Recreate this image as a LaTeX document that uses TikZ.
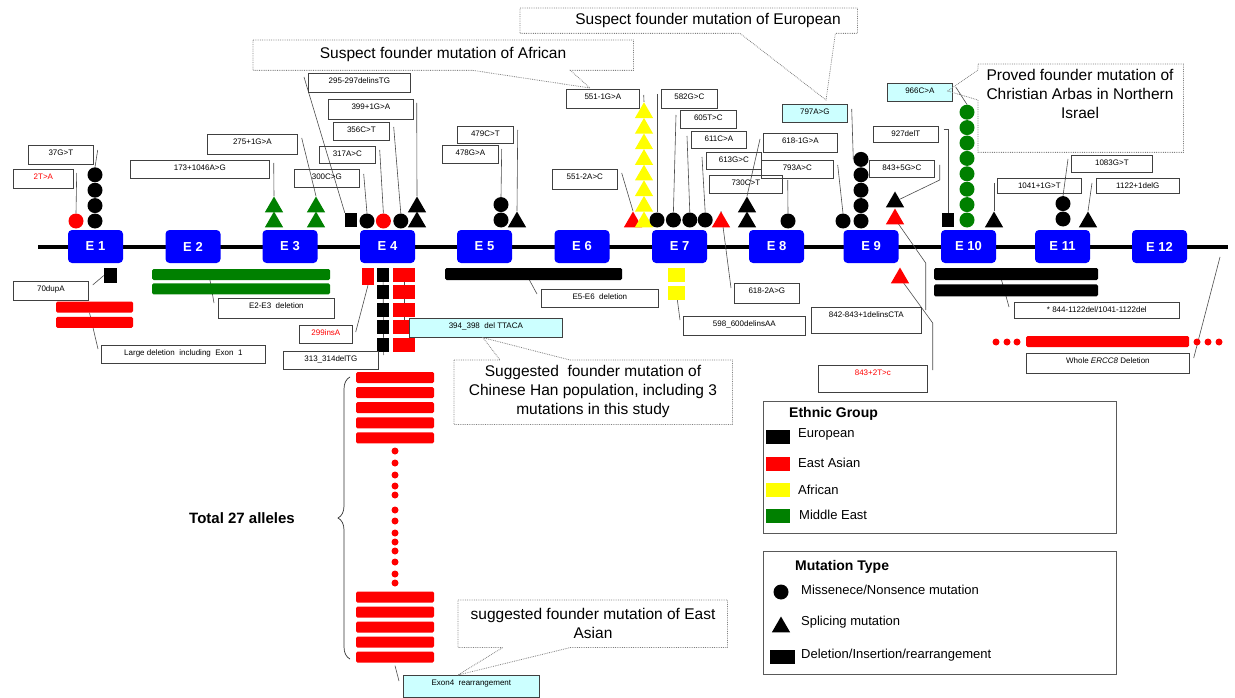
\documentclass[tikz,border=0pt]{standalone}
\usepackage{fontspec}
\setmainfont{Liberation Sans}
\usepackage{tikz}
\usetikzlibrary{calc,positioning,shapes.geometric,decorations.pathreplacing,backgrounds}

\definecolor{exblue}{RGB}{0,0,255}
\definecolor{megreen}{RGB}{0,128,0}
\definecolor{afyellow}{RGB}{255,255,0}
\definecolor{lcyan}{RGB}{204,255,255}

\newcommand{\lblfont}{\fontsize{8}{9}\selectfont}
\newcommand{\calfont}{\fontsize{15.5}{19}\selectfont}
\newcommand{\legfont}{\fontsize{13}{15}\selectfont}

\tikzset{
  exon/.style={fill=exblue, rounded corners=4pt, minimum width=55pt, minimum height=33pt, inner sep=0pt, text=white, font=\bfseries\fontsize{13}{13}\selectfont},
  lbl/.style={draw=black!75, line width=0.7pt, anchor=north west, inner xsep=0pt, inner ysep=3.5pt, text height=6.5pt, text depth=5.5pt, font=\lblfont},
  cir/.style={circle, fill=#1, minimum size=15pt, inner sep=0pt},
  tri/.style={regular polygon, regular polygon sides=3, fill=#1, minimum size=21pt, inner sep=0pt},
  sqr/.style={rectangle, fill=#1, minimum width=12pt, minimum height=14pt, inner sep=0pt},
  slab/.style={rectangle, fill=#1, rounded corners=1.5pt, minimum height=11pt, inner sep=0pt},
  swatch/.style={rectangle, fill=#1, minimum width=24pt, minimum height=14pt, inner sep=0pt},
  rdot/.style={circle, fill=red, minimum size=7pt, inner sep=0pt},
  ld/.style={draw=black!70, line width=0.6pt},
  calline/.style={draw=black!50, densely dotted, line width=0.8pt},
  calbox/.style={anchor=north west, inner sep=0pt},
  calltext/.style={font=\calfont, align=center, inner sep=0pt},
  legbox/.style={draw=black!65, line width=0.8pt, anchor=north west, inner sep=0pt},
  legtext/.style={font=\legfont, anchor=west, inner sep=0pt},
  legtitle/.style={font=\bfseries\fontsize{14}{16}\selectfont, anchor=west, inner sep=0pt},
}

\begin{document}
\begin{tikzpicture}[x=1pt, y=-1pt]
	\useasboundingbox (0,0) rectangle (1235,698);
	\coordinate (bbl) at (38,247);
	\coordinate (bbr) at (1228,247);
	\coordinate (wend) at (1220,257);
	\coordinate (brb) at (350,659);
	\coordinate (brt) at (350,377);

	\node (e1) [exon] at (95.5,246.5) {E 1};
	\node (e2) [exon] at (193,246.5) {E 2};
	\node (e3) [exon] at (290,246.5) {E 3};
	\node (e4) [exon] at (387.5,246.5) {E 4};
	\node (e5) [exon] at (484.5,246.5) {E 5};
	\node (e6) [exon] at (582,246.5) {E 6};
	\node (e7) [exon] at (679.5,246.5) {E 7};
	\node (e8) [exon] at (776.5,246.5) {E 8};
	\node (e9) [exon] at (871,246.5) {E 9};
	\node (e10) [exon] at (968.5,246.5) {E 10};
	\node (e11) [exon] at (1062.5,246.5) {E 11};
	\node (e12) [exon] at (1159.5,246.5) {E 12};

	\node (c1r) [cir=red] at (76,221) {};
	\node (c1a) [cir=black] at (95,221) {};
	\node (c1b) [cir=black, above=0pt of c1a] {};
	\node (c1c) [cir=black, above=0pt of c1b] {};
	\node (c1d) [cir=black, above=0pt of c1c] {};
	\node (t3a) [tri=megreen] at (274,222) {};
	\node (t3b) [tri=megreen] at (274,207) {};
	\node (t3c) [tri=megreen] at (316,222) {};
	\node (t3d) [tri=megreen] at (316,207) {};
	\node (sq4) [sqr=black] at (351,220) {};
	\node (c4a) [cir=black] at (367,221) {};
	\node (c4b) [cir=red, right=1pt of c4a] {};
	\node (c4c) [cir=black, right=2pt of c4b] {};
	\node (t4a) [tri=black] at (417,222) {};
	\node (t4b) [tri=black] at (417,207) {};
	\node (c5a) [cir=black] at (501,220) {};
	\node (c5b) [cir=black, above=0pt of c5a] {};
	\node (t5) [tri=black] at (517,222) {};
	\node (t6) [tri=red] at (633,222) {};
	\node (y1) [tri=afyellow] at (644,222) {};
	\node (y2) [tri=afyellow] at (644,206.4) {};
	\node (y3) [tri=afyellow] at (644,190.8) {};
	\node (y4) [tri=afyellow] at (644,175.2) {};
	\node (y5) [tri=afyellow] at (644,159.6) {};
	\node (y6) [tri=afyellow] at (644,144) {};
	\node (y7) [tri=afyellow] at (644,128.4) {};
	\node (y8) [tri=afyellow] at (644,112.8) {};
	\node (c7a) [cir=black] at (657,220) {};
	\node (c7b) [cir=black, right=1pt of c7a] {};
	\node (c7c) [cir=black, right=1pt of c7b] {};
	\node (c7d) [cir=black, right=0pt of c7c] {};
	\node (t7) [tri=red] at (721,222) {};
	\node (t8a) [tri=black] at (747,222) {};
	\node (t8b) [tri=black] at (747,207) {};
	\node (c8) [cir=black] at (788,221) {};
	\node (c9a) [cir=black] at (843,221) {};
	\node (c9b) [cir=black] at (861,221) {};
	\node (c9c) [cir=black, above=0pt of c9b] {};
	\node (c9d) [cir=black, above=0pt of c9c] {};
	\node (c9e) [cir=black, above=0pt of c9d] {};
	\node (c9f) [cir=black, above=0pt of c9e] {};
	\node (t9r) [tri=red] at (895,219) {};
	\node (t9k) [tri=black] at (895,202) {};
	\node (t9d) [tri=red] at (900,278) {};
	\node (sq10) [sqr=black] at (948,220) {};
	\node (g1) [cir=megreen] at (967,220) {};
	\node (g2) [cir=megreen, above=0pt of g1] {};
	\node (g3) [cir=megreen, above=0pt of g2] {};
	\node (g4) [cir=megreen, above=0pt of g3] {};
	\node (g5) [cir=megreen, above=0pt of g4] {};
	\node (g6) [cir=megreen, above=0pt of g5] {};
	\node (g7) [cir=megreen, above=0pt of g6] {};
	\node (g8) [cir=megreen, above=0pt of g7] {};
	\node (t10) [tri=black] at (994,222) {};
	\node (c11a) [cir=black] at (1063,219) {};
	\node (c11b) [cir=black, above=0pt of c11a] {};
	\node (t11) [tri=black] at (1088,222) {};

	\node (sq1b) [sqr=black, minimum width=13pt, minimum height=15pt] at (110.5,275.5) {};
	\node (b1a) [slab=red, minimum width=77pt] at (94.5,307) {};
	\node (b1b) [slab=red, minimum width=77pt, below=4pt of b1a] {};
	\node (b23a) [slab=megreen, minimum width=178pt] at (241,274.5) {};
	\node (b23b) [slab=megreen, minimum width=178pt, below=3pt of b23a] {};
	\node (s4r) [sqr=red, minimum height=17pt] at (368,276.5) {};
	\node (s4k1) [sqr=black] at (383,275) {};
	\node (s4k2) [sqr=black, below=3pt of s4k1] {};
	\node (s4k3) [sqr=black, below=3pt of s4k2] {};
	\node (s4k4) [sqr=black, below=3pt of s4k3] {};
	\node (s4k5) [sqr=black, below=3pt of s4k4] {};
	\node (s4r1) [sqr=red, minimum width=22pt] at (404,275) {};
	\node (s4r2) [sqr=red, minimum width=22pt, below=3pt of s4r1] {};
	\node (s4r3) [sqr=red, minimum width=22pt, below=3pt of s4r2] {};
	\node (s4r4) [sqr=red, minimum width=22pt, below=3pt of s4r3] {};
	\node (s4r5) [sqr=red, minimum width=22pt, below=3pt of s4r4] {};
	\node (b56) [slab=black, minimum width=177pt, minimum height=12pt] at (533.5,274) {};
	\node (s7y1) [sqr=afyellow, minimum width=17pt] at (676.5,275) {};
	\node (s7y2) [sqr=afyellow, minimum width=17pt, below=4pt of s7y1] {};
	\node (b1011a) [slab=black, minimum width=164pt, minimum height=12pt] at (1016,274) {};
	\node (b1011b) [slab=black, minimum width=164pt, minimum height=12pt, below=4pt of b1011a] {};
	\node (bw) [slab=red, minimum width=163pt] at (1107.5,341.5) {};
	\node (dl1) [rdot] at (996,342) {};
	\node (dl2) [rdot] at (1007,342) {};
	\node (dl3) [rdot] at (1017,342) {};
	\node (dr1) [rdot] at (1197,342) {};
	\node (dr2) [rdot] at (1208,342) {};
	\node (dr3) [rdot] at (1219,342) {};

	\node (h1) [slab=red, minimum width=78pt] at (395,377.5) {};
	\node (h2) [slab=red, minimum width=78pt, below=3.7pt of h1] {};
	\node (h3) [slab=red, minimum width=78pt, below=3.7pt of h2] {};
	\node (h4) [slab=red, minimum width=78pt, below=3.7pt of h3] {};
	\node (h5) [slab=red, minimum width=78pt, below=3.7pt of h4] {};
	\node (h6) [slab=red, minimum width=78pt] at (395,597) {};
	\node (h7) [slab=red, minimum width=78pt, below=3.6pt of h6] {};
	\node (h8) [slab=red, minimum width=78pt, below=3.6pt of h7] {};
	\node (h9) [slab=red, minimum width=78pt, below=3.6pt of h8] {};
	\node (h10) [slab=red, minimum width=78pt, below=3.6pt of h9] {};
	\node (hd1) [rdot] at (395,451) {};
	\node (hd2) [rdot] at (395,463) {};
	\node (hd3) [rdot] at (395,475) {};
	\node (hd4) [rdot] at (395,486) {};
	\node (hd5) [rdot] at (395,495) {};
	\node (hd6) [rdot] at (395,510) {};
	\node (hd7) [rdot] at (395,521) {};
	\node (hd8) [rdot] at (395,533) {};
	\node (hd9) [rdot] at (395,542) {};
	\node (hd10) [rdot] at (395,551) {};
	\node (hd11) [rdot] at (395,562) {};
	\node (hd12) [rdot] at (395,574) {};
	\node (hd13) [rdot] at (395,583) {};
	\node (tot) [font=\bfseries\fontsize{15}{18}\selectfont, anchor=west, inner sep=0pt] at (189,518) {Total 27 alleles};

	\node (l2ta) [lbl, minimum width=60pt, text=red] at (13,169) {2T>A};
	\node (l37) [lbl, minimum width=65pt] at (28,145) {37G>T};
	\node (l173) [lbl, minimum width=139pt, text depth=4.5pt] at (130,160) {173+1046A>G};
	\node (l275) [lbl, minimum width=90pt, text depth=6.5pt] at (207,134) {275+1G>A};
	\node (l70) [lbl, minimum width=75pt] at (13,281) {70dupA};
	\node (llarge) [lbl, minimum width=164pt, text depth=4.5pt] at (101,345) {Large deletion\ \ including\ \ Exon\ \ 1};
	\node (le23) [lbl, minimum width=116pt, text depth=6.5pt] at (218,298) {E2-E3\ \ deletion};
	\node (l295) [lbl, minimum width=102pt] at (308,73) {295-297delinsTG};
	\node (l399) [lbl, minimum width=85pt, text depth=6.5pt] at (328,99) {399+1G>A};
	\node (l356) [lbl, minimum width=56pt, text depth=4.5pt] at (333,122) {356C>T};
	\node (l317) [lbl, minimum width=56pt, text depth=3.5pt] at (319,146) {317A>C};
	\node (l300) [lbl, minimum width=65pt, text depth=4.5pt] at (294,169) {300C>G};
	\node (l299) [lbl, minimum width=53pt, text depth=4.5pt, text=red] at (299,325) {299insA};
	\node (l313) [lbl, minimum width=95pt, text depth=4.5pt] at (283,351) {313\_314delTG};
	\node (l394) [lbl, minimum width=153pt, fill=lcyan] at (409,318) {394\_398\ \ del TTACA};
	\node (l479) [lbl, minimum width=56pt, text depth=3.5pt] at (457,126) {479C>T};
	\node (l478) [lbl, minimum width=56pt, text depth=4.5pt] at (442,145) {478G>A};
	\node (l5512) [lbl, minimum width=65pt, text depth=6.5pt] at (552,169) {551-2A>C};
	\node (le56) [lbl, minimum width=117pt, text depth=4.5pt] at (541,289) {E5-E6\ \ deletion};
	\node (l5511) [lbl, minimum width=73pt] at (566,89) {551-1G>A};
	\node (l582) [lbl, minimum width=56pt] at (661,89) {582G>C};
	\node (l605) [lbl, minimum width=56pt, text depth=4.5pt] at (680,110) {605T>C};
	\node (l611) [lbl, minimum width=55pt, text depth=3.5pt] at (691,131) {611C>A};
	\node (l613) [lbl, minimum width=55pt, text depth=3.5pt] at (706,152) {613G>C};
	\node (l6182) [lbl, minimum width=65pt, text depth=6.5pt] at (734,283) {618-2A>G};
	\node (l598) [lbl, minimum width=122pt] at (683,316) {598\_600delinsAA};
	\node (l6181) [lbl, minimum width=74pt] at (763,133) {618-1G>A};
	\node (l730) [lbl, minimum width=73pt, text depth=4.5pt] at (709,175) {730C>T};
	\node (l793) [lbl, minimum width=72pt, text depth=4.5pt] at (761,160) {793A>C};
	\node (l797) [lbl, minimum width=65pt, text depth=4.5pt, fill=lcyan] at (782,104) {797A>G};
	\node (l927) [lbl, minimum width=65pt, text depth=2.5pt] at (873,126) {927delT};
	\node (l843) [lbl, minimum width=65pt, text depth=3.5pt] at (869,160) {843+5G>C};
	\node (l842) [lbl, minimum width=110pt, text depth=12.5pt] at (811,307) {842-843+1delinsCTA};
	\node (l8432) [lbl, minimum width=109pt, text depth=13.5pt, text=red] at (818,365) {843+2T>c};
	\node (l966) [lbl, minimum width=65pt, text depth=4.5pt, fill=lcyan] at (887,83) {966C>A};
	\node (l1041) [lbl, minimum width=84pt, text depth=1.5pt] at (997,178) {1041+1G>T};
	\node (l1083) [lbl, minimum width=81pt, text depth=3.5pt] at (1071,155) {1083G>T};
	\node (l1122) [lbl, minimum width=83pt, text depth=1.5pt] at (1096,178) {1122+1delG};
	\node (l844) [lbl, minimum width=165pt, text depth=2.5pt] at (1014,302) {* 844-1122del/1041-1122del};
	\node (lwhole) [lbl, minimum width=163pt, text depth=6.5pt] at (1026,353) {Whole \textit{ERCC8} Deletion};
	\node (lexon4) [lbl, minimum width=136pt, text depth=8.5pt, fill=lcyan] at (403,675) {Exon4\ \ rearrangement};

	\node (eurbox) [calbox, minimum width=337pt, minimum height=25pt] at (520,8) {};
	\node (eur) [calltext] at (708,20.5) {Suspect founder mutation of European};
	\draw[calline] (eurbox.north west) -- (eurbox.north east) -- (eurbox.south east) -- ([xshift=-22pt]eurbox.south east) -- ($(l797.north west)+(44,-4)$) -- ([xshift=220pt]eurbox.south west) -- (eurbox.south west) -- cycle;
	\node (afrbox) [calbox, minimum width=380pt, minimum height=30pt] at (253,40) {};
	\node (afr) [calltext] at (443,54) {Suspect founder mutation of African};
	\draw[calline] (afrbox.north west) -- (afrbox.north east) -- (afrbox.south east) -- ([xshift=-63pt]afrbox.south east) -- ($(l5511.north west)+(24,-1)$) -- ([xshift=220pt]afrbox.south west) -- (afrbox.south west) -- cycle;
	\node (prvbox) [calbox, minimum width=205pt, minimum height=88pt] at (978,64) {};
	\node (prv) [calltext] at (1080,94) {Proved founder mutation of\\Christian Arbas in Northern\\Israel};
	\draw[calline] (prvbox.north west) -- (prvbox.north east) -- (prvbox.south east) -- (prvbox.south west) -- ([yshift=-36pt]prvbox.north west) -- ($(l966.north east)+(-5,8)$) -- ([yshift=-6pt]prvbox.north west) -- cycle;
	\node (hanbox) [calbox, minimum width=278pt, minimum height=64pt] at (454,360) {};
	\node (han) [calltext] at (593,391) {Suggested\ \ founder mutation of\\Chinese Han population, including 3\\mutations in this study};
	\draw[calline] (hanbox.north west) -- ([xshift=46pt]hanbox.north west) -- ($(l394.south west)+(74,0)$) -- ([xshift=116pt]hanbox.north west) -- (hanbox.north east) -- (hanbox.south east) -- (hanbox.south west) -- cycle;
	\node (easbox) [calbox, minimum width=269pt, minimum height=47pt] at (458,600) {};
	\node (eas) [calltext] at (593,623) {suggested founder mutation of East\\Asian};
	\draw[calline] (easbox.north west) -- (easbox.north east) -- (easbox.south east) -- ([xshift=113pt]easbox.south west) -- ($(lexon4.north west)+(55,0)$) -- ([xshift=45pt]easbox.south west) -- (easbox.south west) -- cycle;

	\node (eth) [legbox, minimum width=353pt, minimum height=132pt] at (763,401) {};
	\node (ethT) [legtitle] at (789,414) {Ethnic Group};
	\node (kEu) [swatch=black] at (778,437) {};
	\node (tEu) [legtext] at (798,434) {European};
	\node (kEa) [swatch=red] at (778,463.5) {};
	\node (tEa) [legtext] at (798,463) {East Asian};
	\node (kAf) [swatch=afyellow] at (778,490) {};
	\node (tAf) [legtext] at (798,490) {African};
	\node (kMe) [swatch=megreen] at (778,515.5) {};
	\node (tMe) [legtext] at (799,515) {Middle East};
	\node (mty) [legbox, minimum width=353pt, minimum height=123pt] at (763,551) {};
	\node (mtyT) [legtitle] at (795,567) {Mutation Type};
	\node (mCir) [cir=black] at (781,592) {};
	\node (tCir) [legtext] at (801,590) {Missenece/Nonsence mutation};
	\node (mTri) [tri=black] at (781,627) {};
	\node (tTri) [legtext] at (801,622) {Splicing mutation};
	\node (mRec) [swatch=black, minimum width=25pt] at (782.5,657) {};
	\node (tRec) [legtext] at (801,655) {Deletion/Insertion/rearrangement};

	\begin{pgfonlayer}{background}
	\draw[line width=4pt] (bbl) -- (bbr);
	\draw[black!80, line width=0.7pt, decorate, decoration={brace, amplitude=12pt}] (brb) -- (brt);
	\draw[ld] ($(l2ta.north east)+(3,4)$) -- (c1r.north);
	\draw[ld] ($(l37.north east)+(4,5)$) -- (c1d.north);
	\draw[ld] ($(l173.north east)+(4,3)$) -- (t3b.corner 1);
	\draw[ld] ($(l275.north east)+(4,4)$) -- (t3d.corner 1);
	\draw[ld] ($(l70.north east)+(4,4)$) -- (sq1b.west);
	\draw[ld] ($(b1a.south)+(-5,0)$) -- ($(llarge.north west)+(-3,4)$);
	\draw[ld] ($(b23a.south)+(-31,0)$) -- ($(le23.north west)+(-4,5)$);
	\draw[ld] ($(l295.north west)+(-4,4)$) -- (sq4.north west);
	\draw[ld] ($(l399.north east)+(3,4)$) -- (t4b.corner 1);
	\draw[ld] ($(l356.north east)+(4,5)$) -- (c4c.north);
	\draw[ld] ($(l317.north east)+(4,4)$) -- (c4b.north);
	\draw[ld] ($(l300.north east)+(4,5)$) -- (c4a.north);
	\draw[ld] ($(l299.north east)+(3,7)$) -- (s4r.south);
	\draw[ld] (s4k1.center) -- ($(l313.north east)+(5,4)$);
	\draw[ld] (s4r1.center) |- (l394.west);
	\draw[ld] ($(l479.north east)+(4,4)$) -- (t5.corner 1);
	\draw[ld] ($(l478.north east)+(3,4)$) -- (c5b.north);
	\draw[ld] ($(b56.south)+(-4,0)$) -- ($(le56.north west)+(-4,5)$);
	\draw[ld] ($(l5512.north east)+(4,4)$) -- (t6.corner 1);
	\draw[ld] ($(l5511.north east)+(4,6)$) -- (y8.corner 1);
	\draw[ld] ($(l582.north west)+(-4,5)$) -- (c7a.north);
	\draw[ld] ($(l605.north west)+(-4,5)$) -- (c7b.north);
	\draw[ld] ($(l611.north west)+(-4,5)$) -- (c7c.north);
	\draw[ld] ($(l613.north west)+(-4,5)$) -- (c7d.north);
	\draw[ld] ($(l6182.north west)+(-3,5)$) -- (t7.corner 1);
	\draw[ld] (s7y2.center) -- ($(l598.north west)+(-3,4)$);
	\draw[ld] ($(l6181.north west)+(-3,6)$) -- (t8b.corner 1);
	\draw[ld] ($(l730.north east)+(5,5)$) -- (c8.north);
	\draw[ld] ($(l793.north east)+(4,5)$) -- (c9a.north);
	\draw[ld] ($(l797.north east)+(4,5)$) -- (c9f.west);
	\draw[ld] ($(l927.north east)+(5,3)$) -| (sq10.north);
	\draw[ld] ($(l843.north east)+(5,5)$) -- ++(0,15) -- (t9k.side 3);
	\draw[ld] ($(l842.north east)+(4,3)$) -- ++(0,-47) -- (t9r.center);
	\draw[ld] ($(l8432.north east)+(5,5)$) -- ++(0,-47) -- (t9d.center);
	\draw[ld] ($(l966.north east)+(3,4)$) -- (g8.north);
	\draw[ld] ($(l1041.north west)+(-3,5)$) -- (t10.corner 1);
	\draw[ld] ($(l1083.north west)+(-3,4)$) -- (c11b.north);
	\draw[ld] ($(l1122.north west)+(-4,5)$) -- (t11.corner 1);
	\draw[ld] ($(b1011a.south)+(-15,-2)$) -- ($(l844.north west)+(-5,5)$);
	\draw[ld] ($(lwhole.north east)+(4,5)$) -- (wend);
	\draw[ld] ($(h10.south)+(0,3)$) -- ($(lexon4.north west)+(-4,6)$);
	\end{pgfonlayer}
\end{tikzpicture}
\end{document}
